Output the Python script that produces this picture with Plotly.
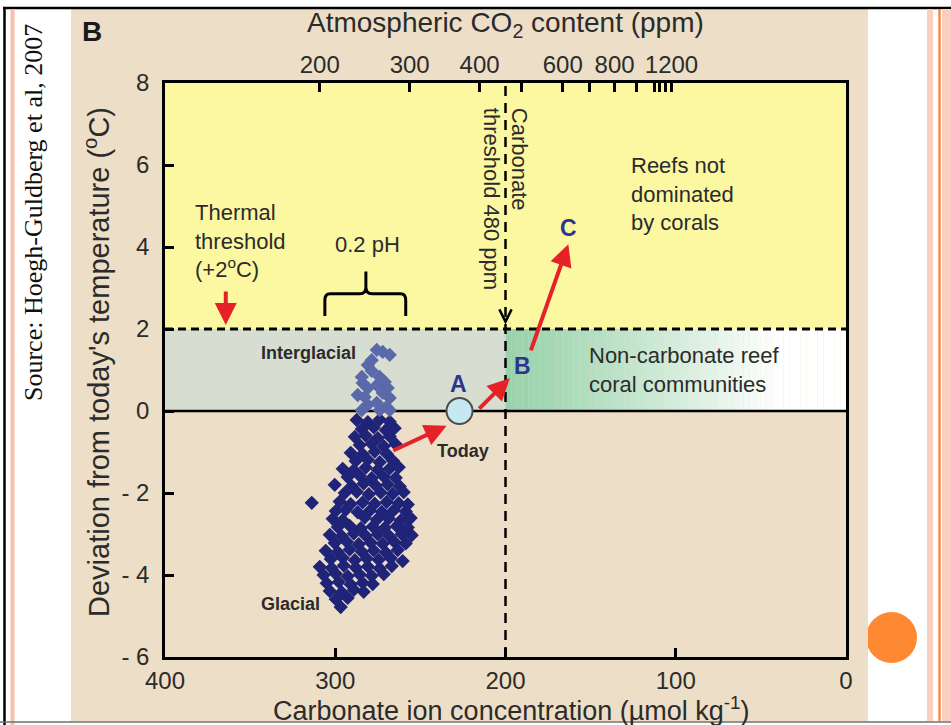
import plotly.graph_objects as go

# ---------------- data ----------------
glacial_x = [
    287.4, 280.9, 273.9, 268.0,
    284.4, 277.4, 270.3, 265.1,
    288.5, 282.1, 275.0, 268.0,
    285.6, 278.6, 271.5, 264.5,
    290.9, 283.9, 276.8, 269.8,
    288.0, 280.9, 273.9, 266.2,
    295.6, 289.1, 282.1, 275.0, 268.0, 262.7,
    292.7, 285.6, 278.6, 271.5, 264.5,
    300.3, 290.3, 283.3, 276.2, 269.2, 262.1,
    294.4, 287.4, 280.3, 273.3, 266.2, 259.8,
    313.8, 297.4, 290.9, 283.9, 276.8, 269.8, 262.7, 257.4,
    299.7, 293.8, 286.8, 279.7, 272.7, 265.6, 258.6,
    301.5, 295.6, 282.7, 275.6, 268.6, 261.5, 255.7,
    298.5, 291.5, 285.0, 278.0, 270.9, 263.9, 257.4,
    303.2, 296.2, 289.1, 282.1, 275.0, 268.0, 261.0, 255.1,
    300.3, 293.2, 286.2, 279.2, 272.1, 265.1, 258.6,
    305.6, 298.5, 291.5, 284.4, 277.4, 270.3, 263.3,
    302.6, 295.6, 288.5, 281.5, 274.5, 267.4, 260.4,
    309.1, 302.1, 295.0, 288.0, 280.9, 273.9, 266.8,
    306.8, 299.7, 292.7, 285.6, 278.6, 271.5,
    305.0, 297.9, 290.9, 283.9, 278.0,
    303.2, 296.2, 289.1, 283.3,
    299.7, 292.7,
    296.8,
]
glacial_y = [
    -0.22, -0.27, -0.21, -0.26,
    -0.44, -0.40, -0.47, -0.42,
    -0.63, -0.60, -0.66, -0.62,
    -0.83, -0.80, -0.86, -0.81,
    -1.02, -1.05, -0.99, -1.04,
    -1.22, -1.19, -1.25, -1.21,
    -1.41, -1.44, -1.38, -1.43, -1.40, -1.37,
    -1.61, -1.58, -1.64, -1.60, -1.63,
    -1.80, -1.83, -1.77, -1.82, -1.79, -1.84,
    -2.00, -1.97, -2.03, -1.99, -2.02, -1.98,
    -2.24, -2.21, -2.27, -2.23, -2.26, -2.22, -2.25, -2.28,
    -2.44, -2.41, -2.47, -2.43, -2.46, -2.42, -2.45,
    -2.63, -2.66, -2.60, -2.65, -2.62, -2.67, -2.61,
    -2.83, -2.80, -2.86, -2.82, -2.85, -2.81, -2.84,
    -3.02, -3.05, -2.99, -3.04, -3.01, -3.06, -3.00, -3.03,
    -3.22, -3.19, -3.25, -3.21, -3.24, -3.20, -3.23,
    -3.41, -3.44, -3.38, -3.43, -3.40, -3.45, -3.39,
    -3.61, -3.58, -3.64, -3.60, -3.63, -3.59, -3.66,
    -3.80, -3.83, -3.77, -3.82, -3.79, -3.84, -3.78,
    -4.00, -3.97, -4.03, -3.99, -4.02, -3.98,
    -4.20, -4.17, -4.23, -4.19, -4.22,
    -4.39, -4.42, -4.36, -4.41,
    -4.59, -4.56,
    -4.78,
]
interglacial_x = [275.6, 272.1, 268.0, 278.6, 280.9, 278.6, 284.4, 283.9, 280.9,
                  273.9, 270.9, 269.2, 275.6, 272.1, 268.0, 282.7, 280.9, 275.6,
                  269.8, 284.4, 273.9, 268.0, 286.8]
interglacial_y = [1.49, 1.44, 1.37, 1.24, 1.12, 0.98, 0.83, 0.68, 0.56,
                  0.83, 0.71, 0.56, 0.63, 0.44, 0.32, 0.34, 0.15, 0.20,
                  0.10, 0.02, 0.02, 0.02, 0.39]
today_x = [227.0]
today_y = [0.0]

x_ticks = [400, 300, 200, 100, 0]
y_ticks = [8, 6, 4, 2, 0, -2, -4, -6]
y_tick_text = ["8", "6", "4", "2", "0", "- 2", "- 4", "- 6"]
# top (CO2) axis: labelled ticks and unlabelled minor ticks, placed on the carbonate scale
co2_label_pos = [309.1, 256.3, 215.2, 166.4, 135.9, 102.5]
co2_label_text = ["200", "300", "400", "600", "800", "1200"]
co2_minor_pos = [190.5, 150.6, 123.0, 112.5, 109.5, 106.0]

thermal_threshold = 2.0      # +2 degC
carbonate_threshold = 200.0  # umol/kg  (480 ppm)

# ---------------- styling ----------------
W, H = 951, 725
SANS = "Liberation Sans, Arial, sans-serif"
SERIF = "Liberation Serif, Times New Roman, serif"
TXT = "#2B2B2B"
RED = "#E62229"
BLUE = "#2D3590"
BEIGE = "#EDDEC7"
YELLOW = "#FCF8A2"
BAND = "#D8DDD1"

def px(xp):
    return xp / W

def py(yp):
    return 1 - yp / H

fig = go.Figure()
fig.add_trace(go.Scatter(x=glacial_x, y=glacial_y, mode="markers",
                         marker=dict(symbol="diamond", size=11, color="#1F2478", line=dict(width=0)),
                         hoverinfo="skip", showlegend=False))
fig.add_trace(go.Scatter(x=interglacial_x, y=interglacial_y, mode="markers",
                         marker=dict(symbol="diamond", size=11, color="#5A69A9", line=dict(width=0)),
                         hoverinfo="skip", showlegend=False))
fig.add_trace(go.Scatter(x=today_x, y=today_y, mode="markers",
                         marker=dict(symbol="circle", size=26, color="#C6E8F1",
                                     line=dict(color="#4D4D4D", width=2)),
                         hoverinfo="skip", showlegend=False))
fig.add_trace(go.Scatter(x=[None], y=[None], xaxis="x2", yaxis="y", showlegend=False, hoverinfo="skip"))

shapes = []
# slide decorations (below the plot)
shapes.append(dict(type="circle", xref="paper", yref="paper", x0=px(866), x1=px(917), y0=py(663), y1=py(612),
                   fillcolor="#FF8833", line=dict(width=0), layer="below"))
shapes.append(dict(type="rect", xref="paper", yref="paper", x0=px(71), x1=px(868), y0=py(721), y1=py(9),
                   fillcolor=BEIGE, line=dict(width=0), layer="below"))
# regions
shapes.append(dict(type="rect", xref="x", yref="y", x0=400, x1=0, y0=thermal_threshold, y1=8,
                   fillcolor=YELLOW, line=dict(width=0), layer="below"))
shapes.append(dict(type="rect", xref="x", yref="y", x0=400, x1=carbonate_threshold, y0=0, y1=thermal_threshold,
                   fillcolor=BAND, line=dict(width=0), layer="below"))
g0 = (152, 210, 170)
n = 60
for i in range(n):
    xa = carbonate_threshold - carbonate_threshold * i / n
    xb = carbonate_threshold - carbonate_threshold * (i + 1) / n
    t = min(1.0, (carbonate_threshold - (xa + xb) / 2) / 160.0)
    t = t ** 1.15
    c = tuple(int(round(g0[k] + (255 - g0[k]) * t)) for k in range(3))
    shapes.append(dict(type="rect", xref="x", yref="y", x0=xa, x1=xb, y0=0, y1=thermal_threshold,
                       fillcolor="rgb(%d,%d,%d)" % c, line=dict(width=0), layer="below"))
# threshold lines
shapes.append(dict(type="line", xref="x", yref="y", x0=400, x1=0, y0=thermal_threshold, y1=thermal_threshold,
                   line=dict(color="black", width=3, dash="8px,5px"), layer="below"))
shapes.append(dict(type="line", xref="x", yref="y", x0=400, x1=0, y0=0, y1=0,
                   line=dict(color="black", width=2.5), layer="below"))
shapes.append(dict(type="line", xref="x", yref="y", x0=carbonate_threshold, x1=carbonate_threshold, y0=-6, y1=8,
                   line=dict(color="black", width=2.5, dash="10px,7px"), layer="below"))
# chevron arrowhead on the carbonate threshold line
shapes.append(dict(type="path", xref="x", yref="y",
                   path="M 203.6,2.48 L 200,2.18 L 196.4,2.48",
                   line=dict(color="black", width=2.5), layer="below"))
# 0.2 pH bracket
shapes.append(dict(type="path", xref="x", yref="y",
                   path=("M 306.1,2.32 L 306.1,2.70 Q 306.1,2.86 303.0,2.86 L 285.5,2.86 "
                         "Q 282.0,2.86 282.0,3.02 L 282.0,3.40 M 282.0,3.02 Q 282.0,2.86 278.5,2.86 "
                         "L 261.6,2.86 Q 258.6,2.86 258.6,2.70 L 258.6,2.32"),
                   line=dict(color="black", width=3), layer="below"))
# slide frame lines
shapes.append(dict(type="line", xref="paper", yref="paper", x0=px(3), x1=1, y0=py(8), y1=py(8),
                   line=dict(color="black", width=2.5)))
shapes.append(dict(type="line", xref="paper", yref="paper", x0=px(4.5), x1=px(4.5), y0=0, y1=py(8),
                   line=dict(color="black", width=2.5)))
shapes.append(dict(type="line", xref="paper", yref="paper", x0=px(12.5), x1=px(12.5), y0=0, y1=py(9),
                   line=dict(color="#F8BFB0", width=4)))
shapes.append(dict(type="line", xref="paper", yref="paper", x0=0, x1=1, y0=py(722), y1=py(722),
                   line=dict(color="#6E6E6E", width=1.5)))
shapes.append(dict(type="rect", xref="paper", yref="paper", x0=px(927), x1=px(933), y0=py(721), y1=py(9),
                   fillcolor="#FBCFC0", line=dict(width=0)))
shapes.append(dict(type="line", xref="paper", yref="paper", x0=px(939.5), x1=px(939.5), y0=py(721), y1=py(9),
                   line=dict(color="#F58A4B", width=2.5)))
shapes.append(dict(type="rect", xref="paper", yref="paper", x0=px(942), x1=1, y0=py(721), y1=py(9),
                   fillcolor="#FBCFC0", line=dict(width=0)))

ann = []
def arrow(xt, yt, xs, ys, width=4):
    ann.append(dict(x=xt, y=yt, ax=xs, ay=ys, xref="x", yref="y", axref="x", ayref="y", text="",
                    showarrow=True, arrowhead=2, arrowsize=1.1, arrowwidth=width, arrowcolor=RED, standoff=0))

arrow(234.6, -0.36, 266.8, -0.98)
arrow(197.5, 0.80, 216.3, 0.02)
arrow(163.1, 4.07, 185.4, 1.44)
arrow(364.3, 2.10, 364.3, 2.95)

def text(x, y, s, size=22, color=TXT, xanchor="center", yanchor="middle", align="center",
         bold=False, angle=0, ref="data", family=SANS):
    if bold:
        s = "<b>" + s + "</b>"
    ann.append(dict(x=x, y=y, xref="x" if ref == "data" else "paper", yref="y" if ref == "data" else "paper",
                    text=s, showarrow=False, xanchor=xanchor, yanchor=yanchor, align=align, textangle=angle,
                    font=dict(family=family, size=size, color=color)))

text(383.7, 4.15, "Thermal<br>threshold<br>(+2<sup>o</sup>C)", xanchor="left", align="left")
text(281.0, 4.07, "0.2 pH")
text(286.8, 1.41, "Interglacial", size=18, bold=True, xanchor="right")
text(307.8, -4.71, "Glacial", size=18, bold=True, xanchor="right")
text(225.1, -0.98, "Today", size=18, bold=True)
text(227.5, 0.66, "A", size=23, color=BLUE, bold=True)
text(189.8, 1.10, "B", size=23, color=BLUE, bold=True)
text(162.8, 4.46, "C", size=23, color=BLUE, bold=True)
text(127.6, 5.29, "Reefs not<br>dominated<br>by corals", xanchor="left", align="left")
text(152.3, 1.00, "Non-carbonate reef<br>coral communities", xanchor="left", align="left")
text(200.2, 5.17, "Carbonate<br>threshold 480 ppm", size=22, angle=90, align="left")

text(px(505), py(25), "Atmospheric CO<sub>2</sub> content (ppm)", size=28, ref="paper")
text(px(97), py(362), "Deviation from today's temperature (<sup>o</sup>C)", size=29, angle=-90, ref="paper")
text(px(511), py(709), "Carbonate ion concentration (\u00b5mol kg<sup>-1</sup>)", size=27, ref="paper")
text(px(92), py(31), "B", size=28, bold=True, ref="paper", color="#1A1A1A")
text(px(33), py(213), "Source: Hoegh-Guldberg et al, 2007", size=26, angle=-90, ref="paper",
     family=SERIF, color="#111111")

tickfont = dict(family=SANS, size=24, color=TXT)
common = dict(ticks="inside", ticklen=9, tickwidth=2.5, tickcolor="black", showgrid=False,
              zeroline=False, tickfont=tickfont, automargin=False, tickangle=0)

fig.update_layout(
    width=W, height=H, margin=dict(l=0, r=0, t=0, b=0),
    paper_bgcolor="white", plot_bgcolor="rgba(0,0,0,0)", showlegend=False,
    shapes=shapes, annotations=ann,
    xaxis=dict(domain=[px(165), px(846)], range=[400, 0], tickvals=x_ticks,
               showline=True, linewidth=2.5, linecolor="black", mirror=True,
               ticklabelstandoff=0, **common),
    xaxis2=dict(overlaying="x", side="top", anchor="y", range=[400, 0], tickvals=co2_label_pos,
                ticktext=co2_label_text, showline=False, ticklabelstandoff=4,
                minor=dict(tickvals=co2_minor_pos, ticks="inside", ticklen=9, tickwidth=2.5,
                           tickcolor="black", showgrid=False),
                **common),
    yaxis=dict(domain=[py(657), py(83)], range=[-6, 8], tickvals=y_ticks, ticktext=y_tick_text,
               showline=True, linewidth=2.5, linecolor="black", mirror=True,
               ticklabelstandoff=8, **common),
)

fig.write_html("out.html", config={"displayModeBar": False},
               post_script="document.body.style.margin='0';document.body.style.overflow='hidden';")
